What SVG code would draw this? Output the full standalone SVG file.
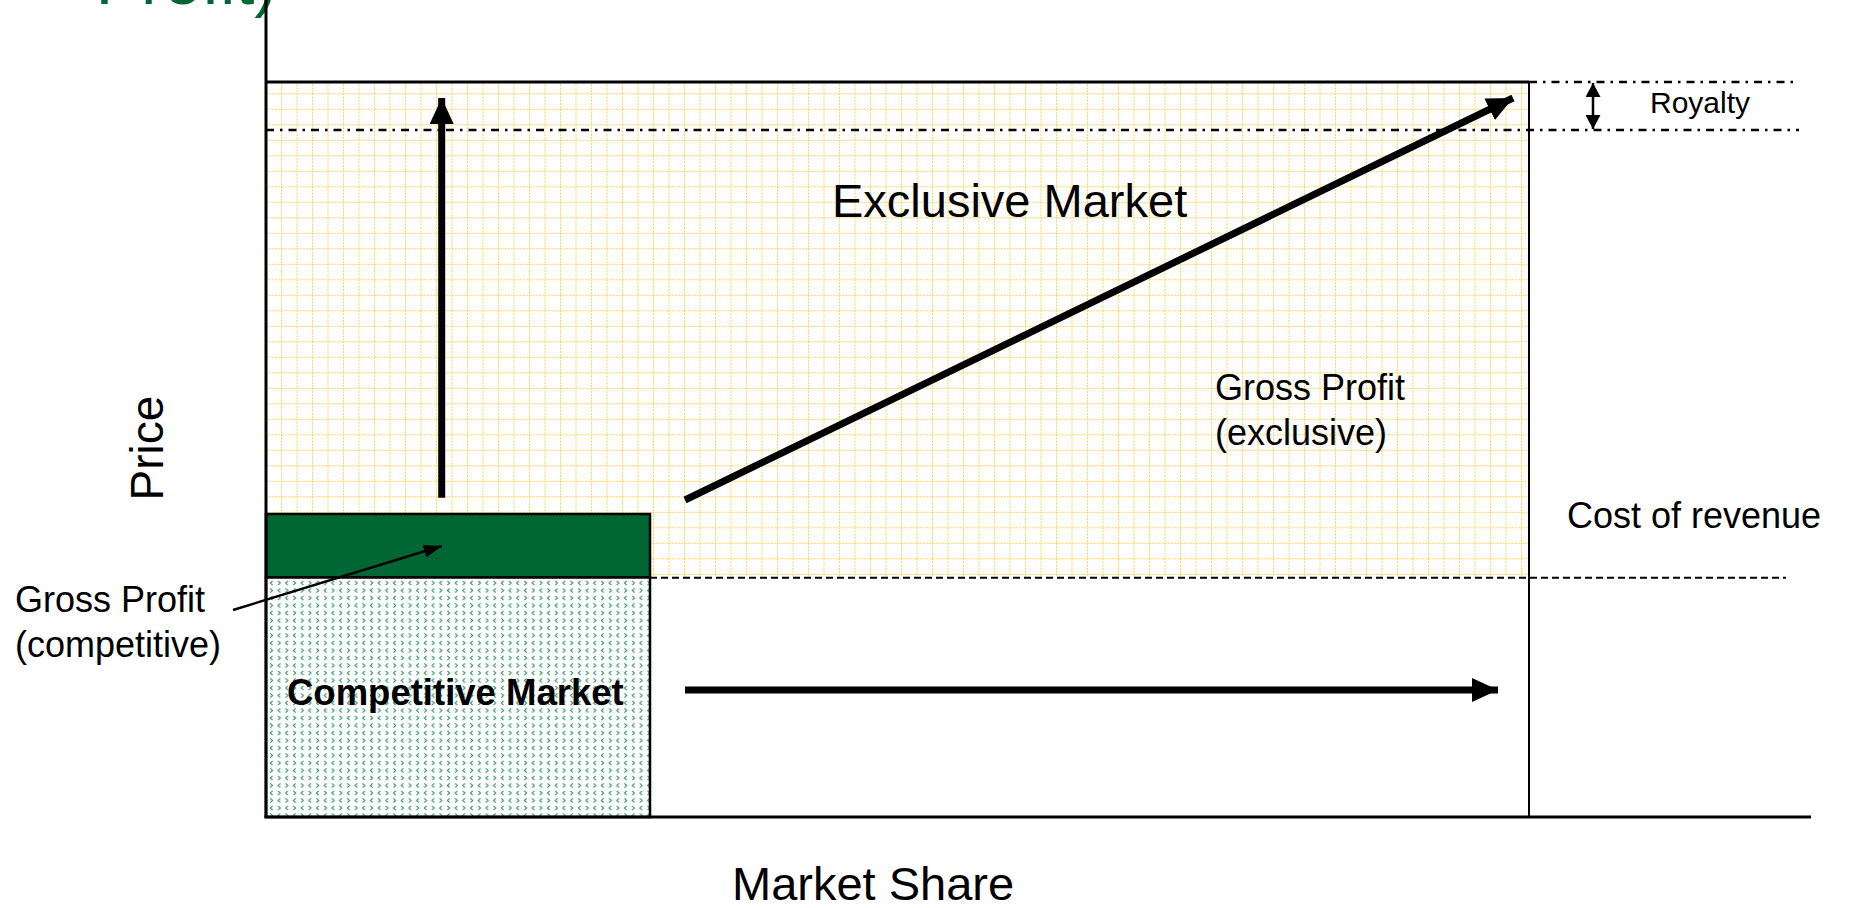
<svg xmlns="http://www.w3.org/2000/svg" width="1849" height="908" viewBox="0 0 1849 908">
<style>
  .t { font-family: "Liberation Sans", Arial, sans-serif; fill: #000; }
  .lbl { font-size: 36px; }
  .big { font-size: 47px; }
  .ax { stroke: #000; stroke-width: 3; fill: none; }
  .thin { stroke: #000; stroke-width: 2; fill: none; }
  .dash { stroke: #000; stroke-width: 2; stroke-dasharray: 7 4; fill: none; }
  .dashdot { stroke: #000; stroke-width: 2.5; stroke-dasharray: 8 6 2.5 6; fill: none; }
  .fat { stroke: #000; stroke-width: 7; fill: none; }
  .chv { stroke: #3A9A6A; stroke-width: 1.2; fill: none; }
</style>
<defs>
  <pattern id="grid" patternUnits="userSpaceOnUse" x="281" y="93.3" width="15.5" height="15.5">
    <line x1="0" y1="0" x2="15.5" y2="0" stroke="#FFD24D" stroke-width="2" stroke-dasharray="2 1.2"/>
    <line x1="0" y1="0" x2="0" y2="15.5" stroke="#FFD24D" stroke-width="2" stroke-dasharray="2 1.2"/>
  </pattern>
  <pattern id="chev" patternUnits="userSpaceOnUse" x="268" y="580" width="15.4" height="15">
    <polyline class="chv" points="4.5,0.8 2.3,3 4.5,5.2"/>
    <polyline class="chv" points="10,0.8 12.2,3 10,5.2"/>
    <polyline class="chv" points="2.3,8.3 4.5,10.5 2.3,12.7"/>
    <polyline class="chv" points="12.2,8.3 10,10.5 12.2,12.7"/>
  </pattern>
  <marker id="bigHead" markerUnits="userSpaceOnUse" viewBox="0 0 26 24" markerWidth="26" markerHeight="24" refX="26" refY="12" orient="auto">
    <polygon points="0,0 26,12 0,24" fill="#000"/>
  </marker>
  <marker id="smallHead" markerUnits="userSpaceOnUse" viewBox="0 0 18 13" markerWidth="18" markerHeight="13" refX="18" refY="6.5" orient="auto">
    <polygon points="0,0 18,6.5 0,13" fill="#000"/>
  </marker>
  <marker id="royHead" markerUnits="userSpaceOnUse" viewBox="0 0 14 15" markerWidth="14" markerHeight="15" refX="14" refY="7.5" orient="auto-start-reverse">
    <polygon points="0,0 14,7.5 0,15" fill="#000"/>
  </marker>
</defs>

<g id="title">
  <text class="t" x="277" y="4" text-anchor="end" style="font-size:68px; fill:#006633;">Profit)</text>
</g>

<g id="exclusive-market">
  <rect x="266" y="82" width="1263" height="495" fill="url(#grid)"/>
  <line class="ax" x1="266" y1="82" x2="1529" y2="82"/>
  <text class="t big" x="832" y="216.7">Exclusive Market</text>
  <text class="t lbl" x="1215" y="399.5">Gross Profit</text>
  <text class="t lbl" x="1215" y="445">(exclusive)</text>
</g>

<g id="gross-profit-competitive">
  <rect x="266" y="514" width="384" height="63.5" fill="#006633" stroke="#000" stroke-width="2.5"/>
  <text class="t lbl" x="15" y="612">Gross Profit</text>
  <text class="t lbl" x="15" y="657">(competitive)</text>
</g>

<g id="competitive-market">
  <rect x="266" y="577.5" width="384" height="239.5" fill="#fff"/>
  <rect x="266" y="577.5" width="384" height="239.5" fill="url(#chev)" stroke="#000" stroke-width="2.5"/>
  <text class="t" x="287" y="705" style="font-size:36.5px; font-weight:bold;">Competitive Market</text>
</g>

<g id="royalty">
  <text class="t" x="1650" y="113" style="font-size:30px;">Royalty</text>
</g>

<g id="cost-of-revenue">
  <text class="t lbl" x="1567" y="527.7">Cost of revenue</text>
</g>

<g id="axes">
  <line class="ax" x1="266" y1="0" x2="266" y2="818"/>
  <line class="ax" x1="264.5" y1="817" x2="1811" y2="817"/>
  <line class="thin" x1="1529" y1="82" x2="1529" y2="817"/>
  <text class="t" transform="translate(163,448) rotate(-90)" text-anchor="middle" style="font-size:46px;">Price</text>
  <text class="t big" x="732" y="900">Market Share</text>
</g>

<g id="connectors">
  <line class="dash" x1="650" y1="577.7" x2="1786" y2="577.7"/>
  <line class="dashdot" x1="266" y1="130" x2="1799" y2="130"/>
  <line class="dashdot" x1="1529" y1="82" x2="1799" y2="82"/>
  <line class="fat" x1="441.7" y1="497.7" x2="441.7" y2="98" marker-end="url(#bigHead)"/>
  <line class="fat" x1="685" y1="500" x2="1513" y2="98" marker-end="url(#bigHead)"/>
  <line class="fat" x1="685" y1="690" x2="1498" y2="690" marker-end="url(#bigHead)"/>
  <line stroke="#000" stroke-width="2.5" x1="233" y1="610" x2="441.7" y2="546" marker-end="url(#smallHead)"/>
  <line stroke="#000" stroke-width="2.5" x1="1593" y1="83" x2="1593" y2="129" marker-start="url(#royHead)" marker-end="url(#royHead)"/>
</g>
</svg>
